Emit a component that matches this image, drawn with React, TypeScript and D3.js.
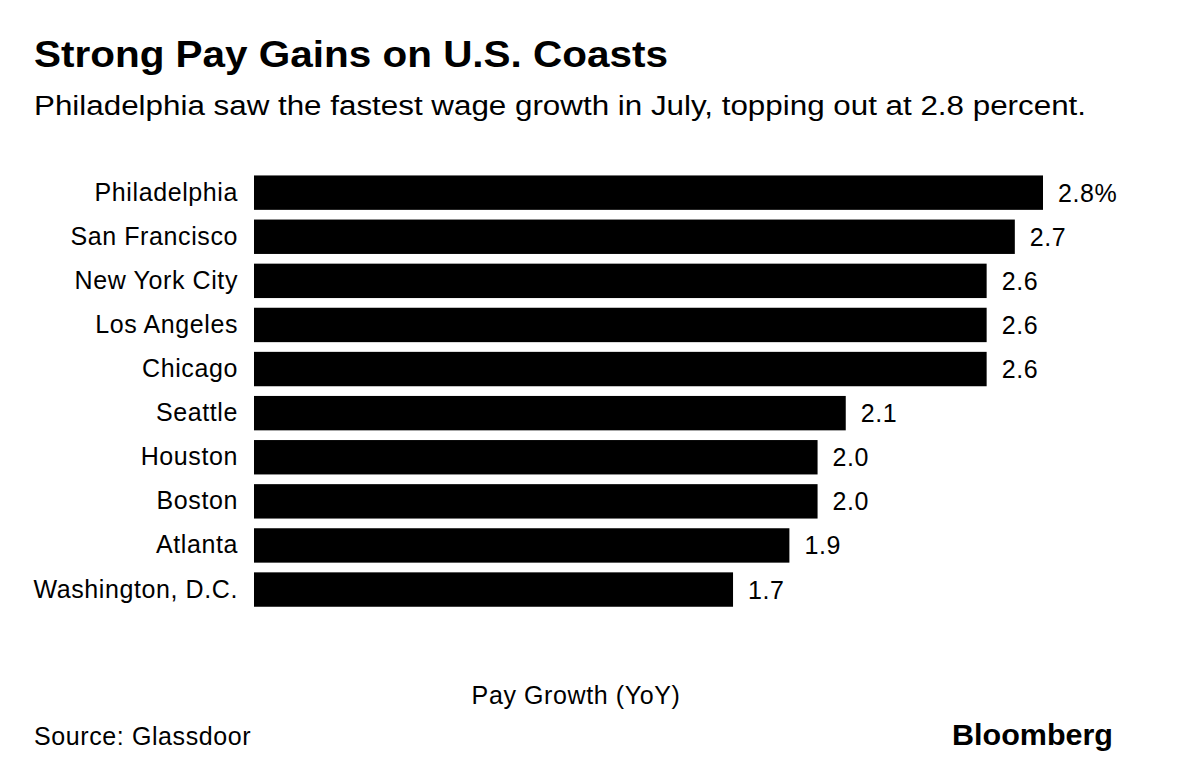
import React, { useEffect, useRef } from "react";
import * as d3 from "d3";

const cities = [
  "Philadelphia",
  "San Francisco",
  "New York City",
  "Los Angeles",
  "Chicago",
  "Seattle",
  "Houston",
  "Boston",
  "Atlanta",
  "Washington, D.C.",
];
const growth = [2.8, 2.7, 2.6, 2.6, 2.6, 2.1, 2.0, 2.0, 1.9, 1.7];
const valueLabels = ["2.8%", "2.7", "2.6", "2.6", "2.6", "2.1", "2.0", "2.0", "1.9", "1.7"];

const titleText = "Strong Pay Gains on U.S. Coasts";
const subtitleText = "Philadelphia saw the fastest wage growth in July, topping out at 2.8 percent.";
const axisTitle = "Pay Growth (YoY)";
const sourceText = "Source: Glassdoor";
const brandText = "Bloomberg";

const W = 1200;
const H = 768;
const FONT = "'Liberation Sans', Arial, Helvetica, sans-serif";

export default function App() {
  const ref = useRef<SVGSVGElement | null>(null);

  useEffect(() => {
    const svg = d3.select(ref.current);
    svg.selectAll("*").remove();

    const x = d3.scaleLinear().domain([0, 2.8]).range([254, 1043]);
    const y = d3
      .scaleBand<string>()
      .domain(cities)
      .range([170.6, 611.6])
      .paddingInner(0.22)
      .paddingOuter(0.11);

    svg.append("rect").attr("width", W).attr("height", H).attr("fill", "#fff");

    svg
      .append("text")
      .attr("x", 34)
      .attr("y", 67)
      .attr("font-family", FONT)
      .attr("font-weight", "bold")
      .attr("font-size", 37)
      .attr("textLength", 634)
      .attr("lengthAdjust", "spacingAndGlyphs")
      .attr("fill", "#000")
      .text(titleText);

    svg
      .append("text")
      .attr("x", 34)
      .attr("y", 115)
      .attr("font-family", FONT)
      .attr("font-size", 27)
      .attr("textLength", 1052)
      .attr("lengthAdjust", "spacingAndGlyphs")
      .attr("fill", "#000")
      .text(subtitleText);

    const data = cities.map((c, i) => ({ c, v: growth[i], l: valueLabels[i] }));

    svg
      .append("g")
      .selectAll("rect")
      .data(data)
      .join("rect")
      .attr("x", x(0))
      .attr("y", (d) => y(d.c)!)
      .attr("width", (d) => x(d.v) - x(0))
      .attr("height", y.bandwidth())
      .attr("fill", "#000");

    svg
      .append("g")
      .selectAll("text")
      .data(data)
      .join("text")
      .attr("x", 238)
      .attr("y", (d) => y(d.c)! + y.bandwidth() / 2 + 8)
      .attr("text-anchor", "end")
      .attr("font-family", FONT)
      .attr("font-size", 25)
      .attr("letter-spacing", 0.6)
      .attr("fill", "#000")
      .text((d) => d.c);

    svg
      .append("g")
      .selectAll("text")
      .data(data)
      .join("text")
      .attr("x", (d) => x(d.v) + 15)
      .attr("y", (d) => y(d.c)! + y.bandwidth() / 2 + 9)
      .attr("font-family", FONT)
      .attr("font-size", 25)
      .attr("letter-spacing", 0.6)
      .attr("fill", "#000")
      .text((d) => d.l);

    svg
      .append("text")
      .attr("x", 576)
      .attr("y", 704)
      .attr("text-anchor", "middle")
      .attr("font-family", FONT)
      .attr("font-size", 25)
      .attr("letter-spacing", 0.6)
      .attr("fill", "#000")
      .text(axisTitle);

    svg
      .append("text")
      .attr("x", 34)
      .attr("y", 745)
      .attr("font-family", FONT)
      .attr("font-size", 25)
      .attr("letter-spacing", 0.6)
      .attr("fill", "#000")
      .text(sourceText);

    svg
      .append("text")
      .attr("x", 952)
      .attr("y", 745)
      .attr("font-family", FONT)
      .attr("font-weight", "bold")
      .attr("font-size", 30)
      .attr("textLength", 161)
      .attr("lengthAdjust", "spacingAndGlyphs")
      .attr("fill", "#000")
      .text(brandText);
  }, []);

  return (
    <svg
      ref={ref}
      width={W}
      height={H}
      style={{ position: "absolute", left: 0, top: 0, display: "block" }}
    />
  );
}
